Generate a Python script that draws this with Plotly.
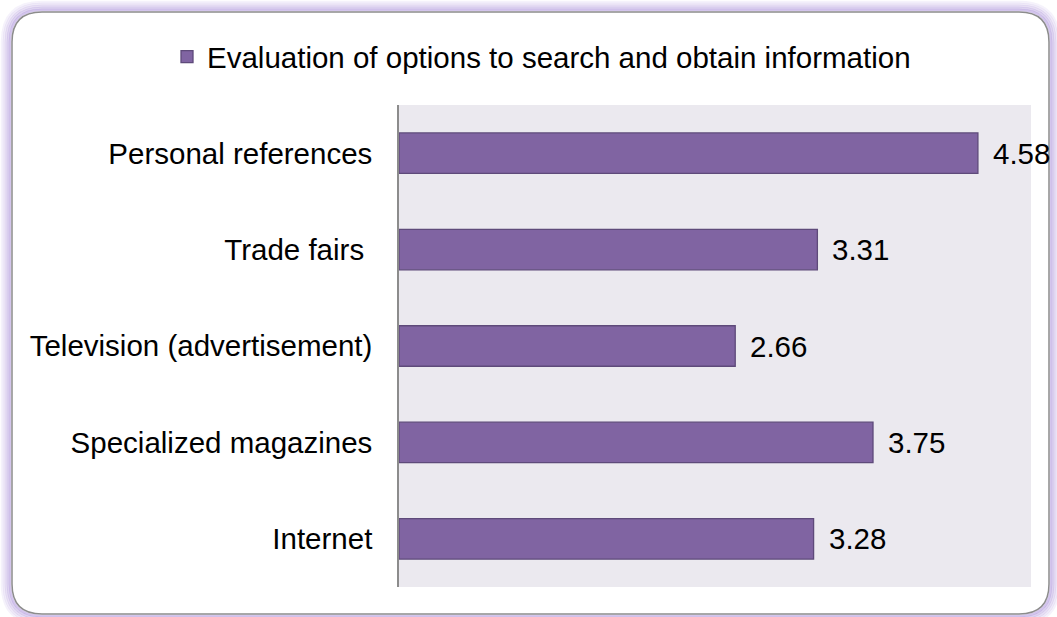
import plotly.graph_objects as go

# Survey results: mean evaluation score per information source
categories = [
    "Internet",
    "Specialized magazines",
    "Television (advertisement)",
    "Trade fairs\u00a0",
    "Personal references",
]
scores = [3.28, 3.75, 2.66, 3.31, 4.58]
series_name = "Evaluation of options to search and obtain information"

W, H = 1057, 617
ML, MR, MT, MB = 399, 26, 105, 30
PW, PH = W - ML - MR, H - MT - MB


def px(x):
    return (x - ML) / PW


def py(y):
    return (H - MB - y) / PH


def rounded_rect(x0, y0, x1, y1, r):
    # SVG path of a rounded rectangle in paper coordinates, given pixel bounds
    pts = [
        f"M {px(x0 + r)},{py(y0)}",
        f"L {px(x1 - r)},{py(y0)}",
        f"Q {px(x1)},{py(y0)} {px(x1)},{py(y0 + r)}",
        f"L {px(x1)},{py(y1 - r)}",
        f"Q {px(x1)},{py(y1)} {px(x1 - r)},{py(y1)}",
        f"L {px(x0 + r)},{py(y1)}",
        f"Q {px(x0)},{py(y1)} {px(x0)},{py(y1 - r)}",
        f"L {px(x0)},{py(y0 + r)}",
        f"Q {px(x0)},{py(y0)} {px(x0 + r)},{py(y0)}",
        "Z",
    ]
    return " ".join(pts)


FONT = "Liberation Sans, Arial, sans-serif"
FS = 29.5
BAR_FILL = "#8064A2"
BAR_EDGE = "#5E4A7A"

fig = go.Figure()
fig.add_trace(
    go.Bar(
        y=categories,
        x=scores,
        orientation="h",
        name=series_name,
        marker=dict(color=BAR_FILL, line=dict(color=BAR_EDGE, width=1.3)),
        showlegend=True,
        hoverinfo="x+y",
    )
)

# value labels to the right of each bar
annotations = []
for cat, val in zip(categories, scores):
    annotations.append(
        dict(
            x=val,
            y=cat,
            xref="x",
            yref="y",
            text=f"{val:.2f}",
            showarrow=False,
            xanchor="left",
            xshift=13,
            font=dict(family=FONT, size=FS, color="#000000"),
        )
    )

# chart frame: soft lavender glow and rounded gray border
shapes = []
glow = [(10, 0.12), (8, 0.20), (6, 0.30), (4, 0.42), (2, 0.55)]
for g, op in glow:
    shapes.append(
        dict(
            type="path",
            xref="paper",
            yref="paper",
            path=rounded_rect(12 - g, 12 - g, 1049 + g, 614 + g, 30 + g),
            line=dict(color=f"rgba(175,150,220,{op})", width=2.5),
            layer="below",
        )
    )
shapes.append(
    dict(
        type="path",
        xref="paper",
        yref="paper",
        path=rounded_rect(12, 12, 1049, 614, 30),
        line=dict(color="#8C8C8C", width=1.5),
        layer="below",
    )
)

fig.update_layout(
    width=W,
    height=H,
    margin=dict(l=ML, r=MR, t=MT, b=MB),
    paper_bgcolor="white",
    plot_bgcolor="#EBE9EF",
    font=dict(family=FONT, size=FS, color="#000000"),
    bargap=0.58,
    showlegend=True,
    legend=dict(
        x=px(167),
        y=py(57),
        xanchor="left",
        yanchor="middle",
        orientation="h",
        font=dict(family=FONT, size=FS, color="#000000"),
        bgcolor="rgba(0,0,0,0)",
        itemwidth=30,
    ),
    xaxis=dict(
        range=[0, 5],
        showgrid=False,
        showticklabels=False,
        zeroline=False,
        showline=False,
        ticks="",
        fixedrange=True,
    ),
    yaxis=dict(
        showgrid=False,
        showline=True,
        linecolor="#8C8C8C",
        linewidth=1.5,
        ticks="",
        ticklabelstandoff=19,
        tickfont=dict(family=FONT, size=FS, color="#000000"),
        fixedrange=True,
    ),
    annotations=annotations,
    shapes=shapes,
)

fig.write_html("out.html")
